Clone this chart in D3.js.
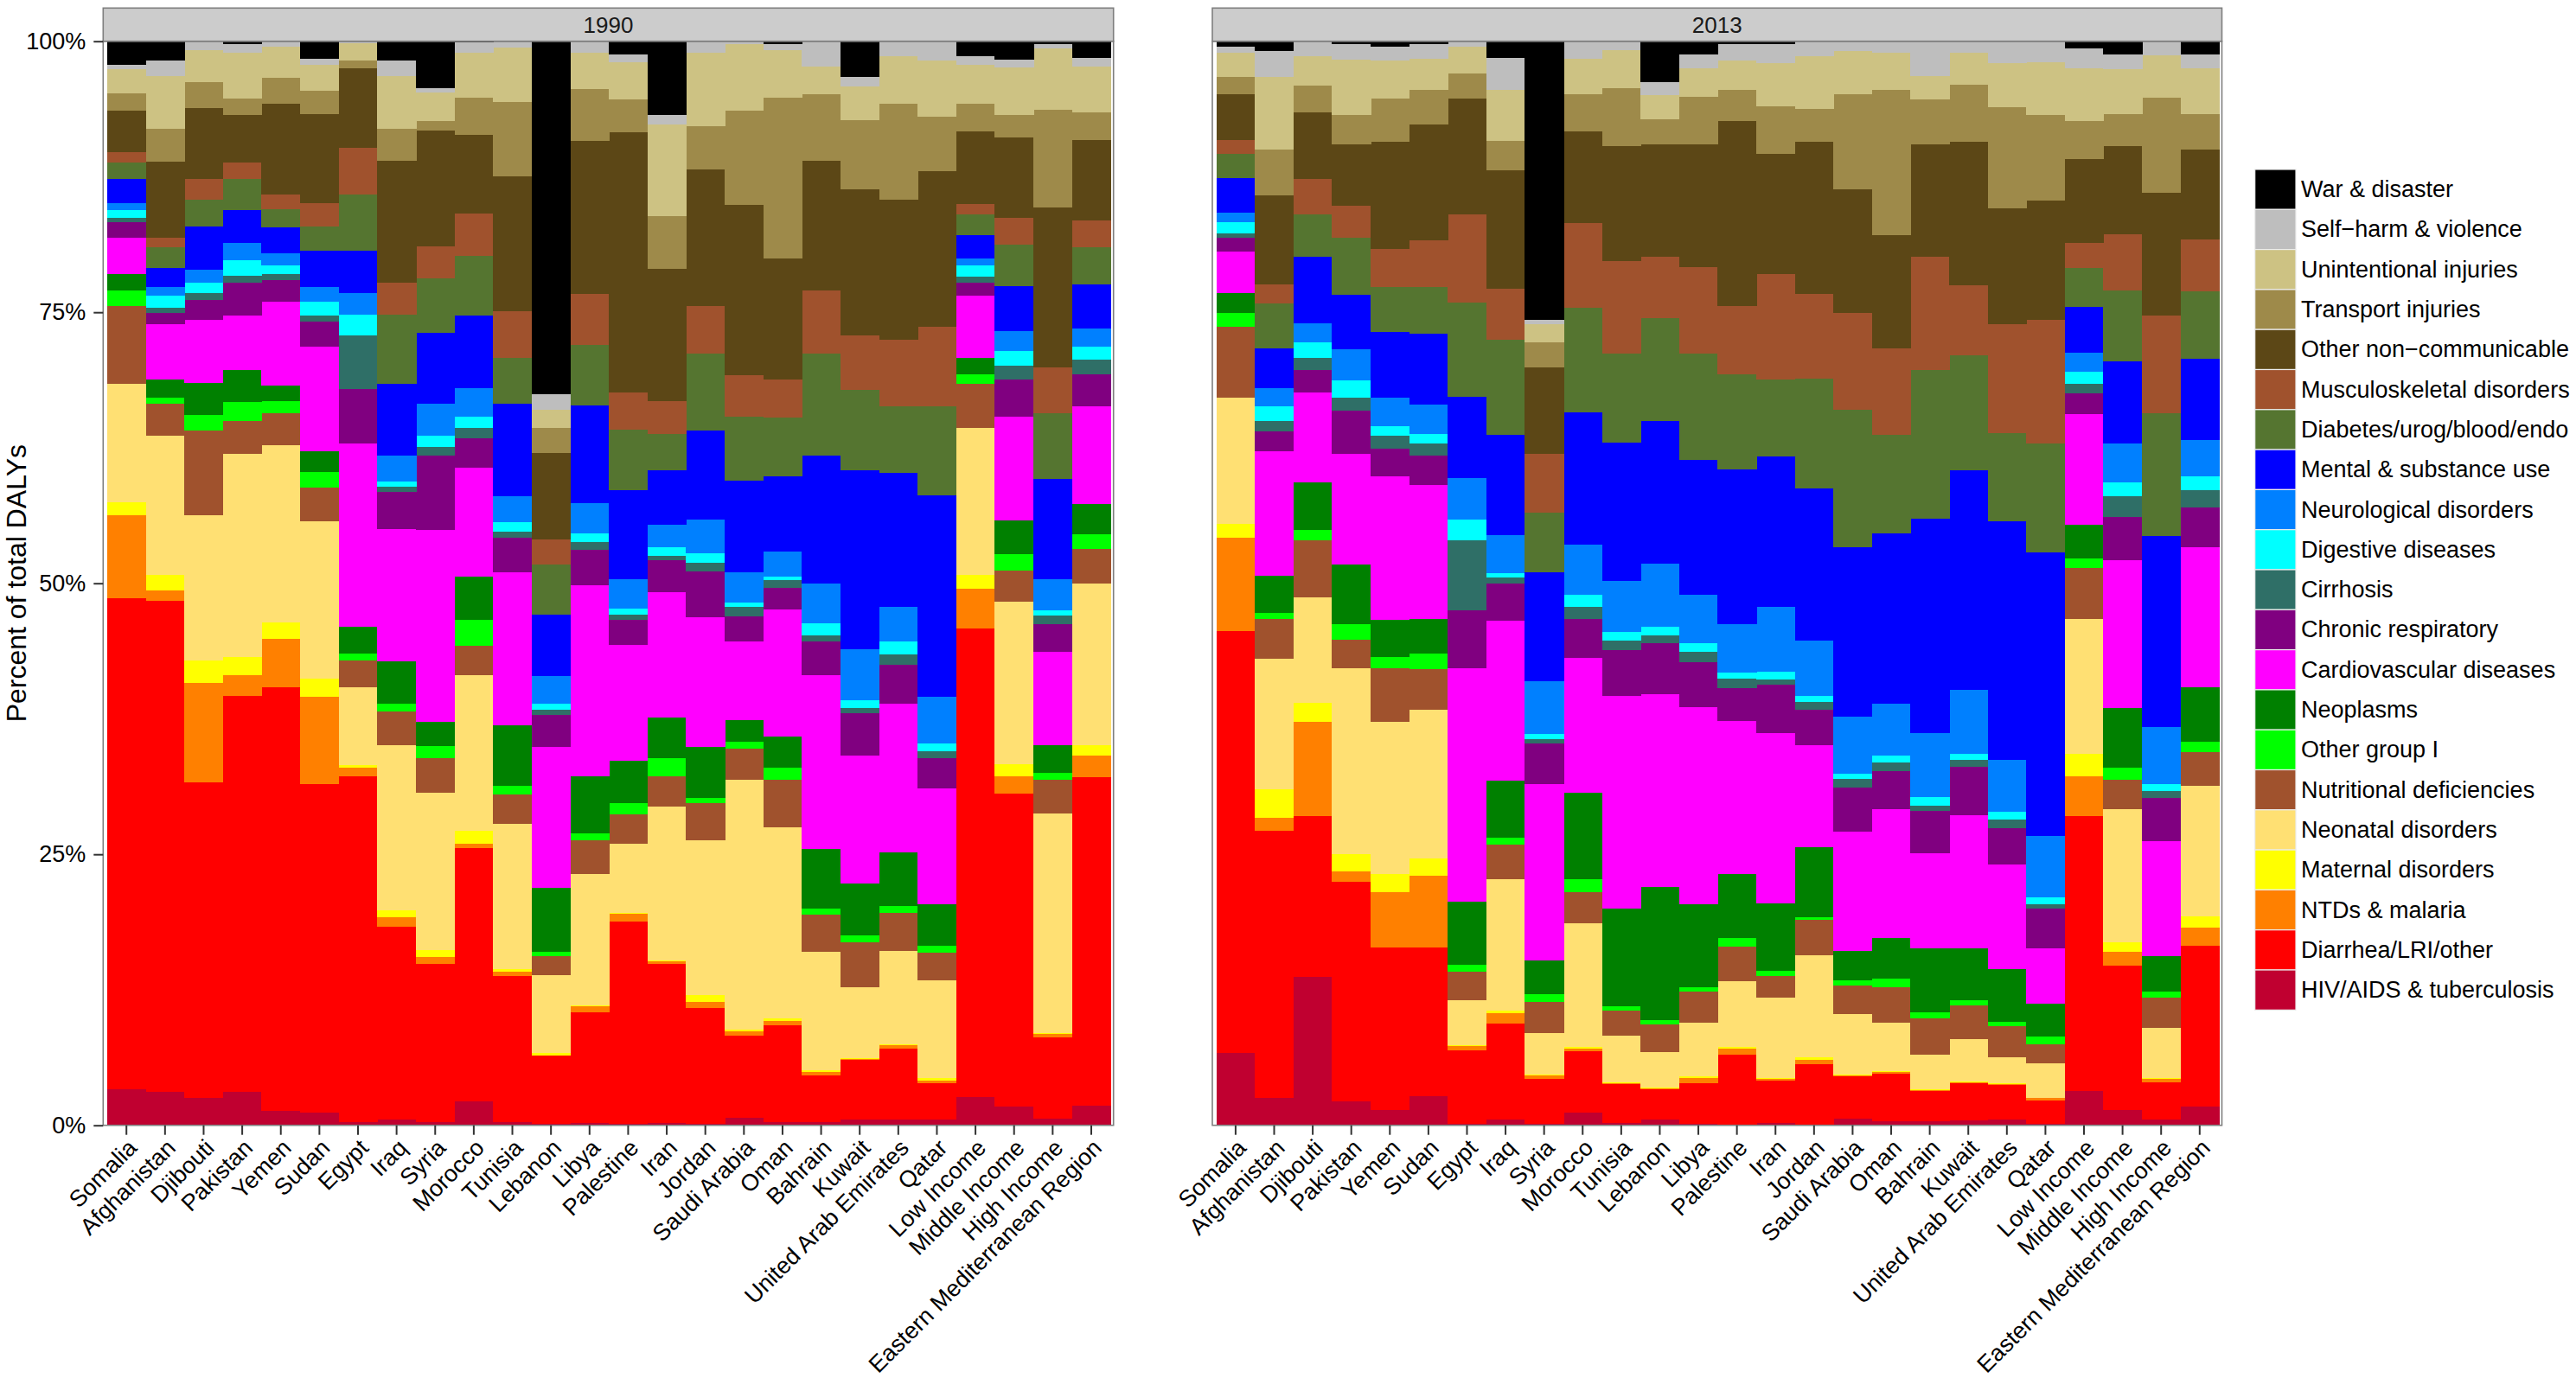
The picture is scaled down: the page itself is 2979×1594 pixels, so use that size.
<!DOCTYPE html>
<html>
<head>
<meta charset="utf-8">
<script src="https://cdn.jsdelivr.net/npm/d3@7"></script>
<style>
  html, body { margin: 0; padding: 0; background: #fff; }
  svg { display: block; font-family: "Liberation Sans", Arial, Helvetica, sans-serif; }
</style>
</head>
<body>
<script>
// ---------------- DATA ----------------
const categories = ["Somalia","Afghanistan","Djibouti","Pakistan","Yemen","Sudan","Egypt","Iraq","Syria","Morocco","Tunisia","Lebanon","Libya","Palestine","Iran","Jordan","Saudi Arabia","Oman","Bahrain","Kuwait","United Arab Emirates","Qatar","Low Income","Middle Income","High Income","Eastern Mediterranean Region"];

const years = ["1990", "2013"];

// causes, stacked bottom -> top
const causes = ["HIV/AIDS & tuberculosis","Diarrhea/LRI/other","NTDs & malaria","Maternal disorders","Neonatal disorders","Nutritional deficiencies","Other group I","Neoplasms","Cardiovascular diseases","Chronic respiratory","Cirrhosis","Digestive diseases","Neurological disorders","Mental & substance use","Diabetes/urog/blood/endo","Musculoskeletal disorders","Other non\u2212communicable","Transport injuries","Unintentional injuries","Self\u2212harm & violence","War & disaster"];

const causeColors = ["#C00030","#FF0000","#FF8000","#FFFF00","#FFE073","#A0522D","#00FF00","#008000","#FF00FF","#800080","#2F6F67","#00FFFF","#0080FF","#0000FF","#557530","#A0522D","#5C4716","#9E8A4A","#CDC283","#BEBEBE","#000000"];

const yTickValues = [0, 0.25, 0.5, 0.75, 1];
const yTickLabels = ["0%", "25%", "50%", "75%", "100%"];

// 1990 values (% of DALYs), order = categories
const hiv_1990       = [3.3,3.1,2.5,3.1,1.3,1.2,0.3,0.5,0.3,2.2,0.3,0.1,0.2,0.1,0.2,0.1,0.7,0.3,0.3,0.5,0.5,0.5,2.6,1.7,0.6,1.8];
const diarrhea_1990  = [45.3,45.3,29.1,36.5,39.1,30.3,31.9,17.8,14.6,23.4,13.5,6.3,10.2,18.7,14.7,10.7,7.6,8.9,4.3,5.5,6.6,3.4,43.2,28.9,7.5,30.3];
const ntd_1990       = [7.7,0.9,9.2,1.9,4.5,8.0,0.8,0.9,0.6,0.4,0.4,0.05,0.6,0.7,0.2,0.6,0.4,0.4,0.3,0.1,0.3,0.2,3.7,1.6,0.3,2.0];
const maternal_1990  = [1.2,1.5,2.1,1.7,1.5,1.7,0.2,0.6,0.7,1.2,0.2,0.2,0.1,0.1,0.1,0.6,0.1,0.3,0.2,0.1,0.1,0.3,1.3,1.1,0.1,1.0];
const neonatal_1990  = [10.9,12.8,13.4,18.7,16.3,14.5,7.2,15.3,14.5,14.3,13.4,7.2,12.1,6.4,14.2,14.3,23.1,17.6,10.9,6.5,8.6,9.0,13.5,15.0,20.3,14.9];
const nutrition_1990 = [7.2,3.0,7.8,3.1,3.0,3.1,2.5,3.1,3.2,2.7,2.7,1.8,3.1,2.7,2.8,3.4,2.9,4.4,3.4,4.2,3.5,2.5,4.1,2.9,3.1,3.2];
const otherI_1990    = [1.4,0.5,1.4,1.7,1.1,1.5,0.6,0.7,1.1,2.4,0.8,0.4,0.6,1.0,1.7,0.5,0.6,1.1,0.6,0.6,0.6,0.7,0.9,1.5,0.6,1.3];
const neoplasm_1990  = [1.5,1.7,3.0,3.0,1.4,1.9,2.5,3.9,2.2,4.0,5.6,5.9,5.3,3.9,3.7,4.7,2.0,2.9,5.5,4.8,5.0,3.8,1.5,3.1,2.6,2.8];
const cardio_1990    = [3.4,5.1,5.8,5.0,7.8,9.6,16.9,12.2,17.7,10.1,14.1,13.0,17.6,10.7,11.6,12.0,7.3,11.7,16.0,11.8,13.7,10.7,5.7,9.6,8.6,9.0];
const chronic_1990   = [1.4,1.0,1.8,3.0,2.0,2.3,5.0,3.4,6.9,2.7,3.2,2.9,3.3,2.3,2.9,4.2,2.3,2.0,3.1,3.9,3.6,2.8,1.2,3.4,2.5,3.0];
const cirrhosis_1990 = [0.4,0.5,0.7,0.7,0.5,0.6,5.0,0.5,0.8,0.9,0.6,0.5,0.7,0.5,0.4,0.8,0.9,0.7,0.6,0.5,0.9,0.6,0.6,1.3,0.8,1.3];
const digestive_1990 = [0.7,1.1,0.9,1.4,0.8,1.3,1.9,0.5,1.0,1.1,0.8,0.6,0.8,0.6,0.8,0.9,0.4,0.3,1.1,0.7,1.2,0.7,1.0,1.3,0.5,1.2];
const neuro_1990     = [0.7,0.8,1.2,1.6,1.1,1.3,2.0,2.4,3.0,2.6,2.4,2.5,2.8,2.7,2.1,3.1,2.8,2.3,3.7,4.7,3.2,4.3,0.7,1.9,2.9,1.7];
const mental_1990    = [2.2,1.8,4.0,3.0,2.4,3.4,3.9,6.6,6.5,6.7,8.6,5.7,9.0,8.2,5.0,8.2,8.4,7.0,11.8,16.5,12.4,18.6,2.1,4.1,9.2,4.1];
const diabetes_1990  = [1.5,1.9,2.5,2.9,1.7,2.2,5.2,6.4,5.0,5.5,4.2,4.6,5.6,5.6,3.4,7.1,5.9,5.4,9.4,7.4,6.1,8.2,1.9,3.8,6.1,3.4];
const musculo_1990   = [1.0,0.9,1.9,1.5,1.4,2.2,4.3,2.9,3.0,3.9,4.3,2.3,4.7,3.4,3.0,4.4,3.9,3.5,5.8,5.1,6.2,7.4,1.0,2.5,4.2,2.5];
const otherNCD_1990  = [3.8,7.0,6.5,4.4,8.3,8.2,7.3,11.3,10.7,7.3,12.4,8.0,14.1,24.0,12.2,12.6,15.7,11.2,12.0,13.4,12.9,14.3,6.7,7.4,14.8,7.4];
const transport_1990 = [1.6,3.0,2.4,1.5,2.4,2.1,0.7,2.9,0.8,3.4,6.9,2.3,4.8,3.0,4.9,4.0,8.7,14.8,6.1,6.4,8.8,5.0,2.5,2.1,9.0,2.5];
const unintent_1990  = [2.2,4.9,3.0,4.2,2.9,2.4,1.6,4.9,2.7,4.1,5.0,1.7,3.3,3.5,8.4,6.7,6.1,4.4,2.6,3.1,4.4,5.2,3.6,4.4,5.6,4.3];
const selfharm_1990  = [0.4,1.4,0.8,0.8,0.5,0.6,0.2,1.4,0.4,1.0,0.6,1.4,1.1,0.7,0.9,1.1,0.3,0.5,2.3,0.9,1.4,1.8,0.8,0.7,0.4,0.8];
const war_1990       = [2.2,1.8,0,0.3,0,1.6,0,1.8,4.3,0.1,0,32.6,0,1.2,6.8,0,0,0.3,0,3.3,0,0,1.4,1.7,0.3,1.5];

// 2013 values (% of DALYs), order = categories
const hiv_2013       = [6.7,2.5,13.7,2.2,1.4,2.7,0.1,0.5,0.1,1.2,0.25,0.5,0.15,0.05,0.25,0.05,0.6,0.4,0.4,0.45,0.55,0.15,3.2,1.4,0.55,1.7];
const diarrhea_2013  = [38.9,24.7,14.8,20.3,15.0,13.7,6.8,8.9,4.2,5.6,3.55,2.8,3.75,6.45,3.85,5.55,3.9,4.4,2.8,3.45,3.15,2.15,25.3,13.3,3.45,14.9];
const ntd_2013       = [8.6,1.2,8.7,0.9,5.1,6.6,0.4,0.9,0.3,0.3,0.1,0.1,0.5,0.6,0.2,0.4,0.1,0.1,0.05,0.05,0.1,0.2,3.7,1.3,0.3,1.6];
const maternal_2013  = [1.3,2.6,1.8,1.6,1.7,1.6,0.1,0.3,0.1,0.1,0.1,0.1,0.1,0.1,0.1,0.3,0.1,0.1,0.1,0.1,0.05,0.05,2.1,0.9,0.1,1.1];
const neonatal_2013  = [11.6,12.0,9.7,17.2,14.0,13.7,4.1,12.1,3.8,11.4,4.3,3.3,5.0,6.1,7.4,9.4,5.6,4.5,3.2,3.9,2.4,3.2,12.4,12.3,4.6,12.0];
const nutrition_2013 = [6.6,3.7,5.3,2.6,5.0,3.8,2.7,3.2,2.9,2.9,2.3,2.5,2.8,3.2,2.0,3.2,2.6,3.2,3.3,3.1,2.9,1.7,4.7,2.7,2.8,3.1];
const otherI_2013    = [1.2,0.6,0.9,1.4,1.0,1.4,0.6,0.6,0.7,1.2,0.4,0.4,0.4,0.8,0.5,0.3,0.5,0.8,0.6,0.5,0.4,0.7,0.9,1.1,0.5,1.0];
const neoplasm_2013  = [1.9,3.4,4.4,5.5,3.4,3.2,5.8,5.3,3.1,8.0,9.0,12.3,7.7,5.9,6.2,6.4,2.7,3.8,5.9,4.8,4.9,3.1,3.1,5.5,3.3,5.0];
const cardio_2013    = [3.8,11.5,8.3,10.2,13.3,12.4,21.6,14.7,16.3,12.4,19.6,17.8,18.2,14.1,15.7,9.4,11.0,11.9,8.8,12.3,9.6,5.1,10.2,13.6,10.6,12.9];
const chronic_2013   = [1.3,1.8,2.1,4.0,2.5,2.7,5.3,3.4,3.7,3.6,4.2,4.7,4.1,3.0,4.5,3.3,4.1,3.5,3.9,4.4,3.4,3.6,1.9,4.0,4.0,3.7];
const cirrhosis_2013 = [0.4,1.0,1.1,1.2,1.2,1.1,6.5,0.6,0.4,1.1,0.9,0.7,1.0,0.9,0.5,0.7,0.8,0.8,0.5,0.7,0.8,0.4,0.9,1.9,0.6,1.6];
const digestive_2013 = [1.0,1.3,1.4,1.6,0.9,0.9,1.9,0.4,0.5,1.1,0.8,0.8,0.8,0.6,0.7,0.6,0.5,0.6,0.8,0.5,0.7,0.7,1.1,1.3,0.7,1.3];
const neuro_2013     = [0.9,1.7,1.8,2.9,2.6,2.7,3.8,3.5,4.9,4.7,4.7,5.9,4.4,4.4,6.0,5.1,5.2,4.8,5.9,5.9,4.8,5.6,1.8,3.6,5.2,3.3];
const mental_2013    = [3.2,3.7,6.1,5.0,6.1,6.5,7.5,9.2,10.0,12.2,12.8,13.1,12.5,14.3,13.9,14.0,15.7,15.7,19.8,20.3,22.0,26.2,4.2,7.6,17.7,7.5];
const diabetes_2013  = [2.2,4.1,3.9,5.3,4.1,4.3,8.7,8.8,5.5,9.6,8.2,9.5,9.8,8.8,7.1,10.1,12.7,9.1,13.7,10.6,8.1,10.0,3.6,6.5,11.3,6.2];
const musculo_2013   = [1.3,1.8,3.3,2.9,3.5,4.3,8.1,4.7,5.4,7.8,8.5,5.7,8.0,6.3,9.7,7.8,8.9,8.0,10.5,6.5,10.1,11.4,2.3,5.2,9.0,4.8];
const otherNCD_2013  = [4.2,8.2,6.1,5.7,9.9,10.7,10.7,10.9,8.0,8.5,10.6,10.4,11.3,17.0,11.1,14.0,11.4,10.4,10.4,13.2,10.7,11.0,7.7,8.1,11.3,8.3];
const transport_2013 = [1.6,4.2,2.5,2.7,4.0,3.2,2.3,2.7,2.3,3.4,5.4,2.3,4.4,2.9,4.4,3.1,8.8,13.4,4.1,5.3,9.3,7.9,3.5,3.0,8.8,3.3];
const unintent_2013  = [2.2,6.7,2.7,5.1,3.5,2.9,2.5,4.7,1.7,3.3,3.5,2.2,2.6,2.7,4.0,4.8,4.0,3.4,2.2,2.9,4.1,4.9,4.9,4.1,3.9,4.2];
const selfharm_2013  = [0.6,2.4,1.4,1.4,1.3,1.3,0.5,3.0,0.4,1.6,0.8,1.2,1.3,1.5,1.7,1.4,0.9,1.1,3.2,1.1,2.0,1.9,1.8,1.4,1.3,1.3];
const war_2013       = [0.5,0.9,0,0.3,0.5,0.3,0,1.5,25.7,0,0,3.8,1.2,0.3,0.3,0,0,0,0,0,0,0,0.7,1.2,0,1.2];

const series1990 = [hiv_1990,diarrhea_1990,ntd_1990,maternal_1990,neonatal_1990,nutrition_1990,otherI_1990,neoplasm_1990,cardio_1990,chronic_1990,cirrhosis_1990,digestive_1990,neuro_1990,mental_1990,diabetes_1990,musculo_1990,otherNCD_1990,transport_1990,unintent_1990,selfharm_1990,war_1990];
const series2013 = [hiv_2013,diarrhea_2013,ntd_2013,maternal_2013,neonatal_2013,nutrition_2013,otherI_2013,neoplasm_2013,cardio_2013,chronic_2013,cirrhosis_2013,digestive_2013,neuro_2013,mental_2013,diabetes_2013,musculo_2013,otherNCD_2013,transport_2013,unintent_2013,selfharm_2013,war_2013];

// ---------------- LAYOUT ----------------
const W = 2979, H = 1594;
const plotTop = 47.7, plotBottom = 1301.7, stripTop = 9.3;
const panels = [
  { year: years[0], x0: 119.3, x1: 1287.7, series: series1990 },
  { year: years[1], x0: 1402, x1: 2569.5, series: series2013 }
];
const fontAxis = 27;

function buildRows(seriesArr) {
  return categories.map((c, i) => {
    const row = { category: c };
    causes.forEach((k, j) => { row[k] = seriesArr[j][i]; });
    return row;
  });
}

const color = d3.scaleOrdinal().domain(causes).range(causeColors);
const y = d3.scaleLinear().domain([0, 1]).range([plotBottom, plotTop]);

const svg = d3.select("body").append("svg").attr("width", W).attr("height", H);
svg.append("rect").attr("width", W).attr("height", H).attr("fill", "#fff");

const stack = d3.stack().keys(causes).order(d3.stackOrderNone).offset(d3.stackOffsetExpand);

panels.forEach(p => {
  const rows = buildRows(p.series);
  const layers = stack(rows);
  const x = d3.scaleBand().domain(categories).range([p.x0 + 4.6, p.x1 - 3.4]).padding(0);

  const g = svg.append("g");
  g.append("rect").attr("x", p.x0).attr("y", plotTop).attr("width", p.x1 - p.x0)
    .attr("height", plotBottom - plotTop).attr("fill", "#fff");

  g.selectAll("g.layer").data(layers).join("g")
    .attr("class", "layer")
    .attr("fill", d => color(d.key))
    .selectAll("rect").data(d => d).join("rect")
      .attr("x", d => x(d.data.category))
      .attr("width", x.bandwidth() + 0.6)
      .attr("y", d => y(d[1]))
      .attr("height", d => Math.max(0, y(d[0]) - y(d[1])))
      .attr("shape-rendering", "crispEdges");

  g.append("rect").attr("x", p.x0).attr("y", plotTop).attr("width", p.x1 - p.x0)
    .attr("height", plotBottom - plotTop).attr("fill", "none")
    .attr("stroke", "#7f7f7f").attr("stroke-width", 1.6);

  g.append("rect").attr("x", p.x0).attr("y", stripTop).attr("width", p.x1 - p.x0)
    .attr("height", plotTop - stripTop).attr("fill", "#cccccc")
    .attr("stroke", "#7f7f7f").attr("stroke-width", 1.6);
  g.append("text").attr("x", (p.x0 + p.x1) / 2).attr("y", (stripTop + plotTop) / 2)
    .attr("text-anchor", "middle").attr("dominant-baseline", "central")
    .attr("font-size", 26).attr("fill", "#1a1a1a").text(p.year);

  const xAxis = d3.axisBottom(x).tickSize(11).tickSizeOuter(0).tickFormat("");
  const xg = g.append("g").attr("transform", `translate(0,${plotBottom})`).call(xAxis);
  xg.select(".domain").remove();
  xg.selectAll(".tick line").attr("stroke", "#333").attr("stroke-width", 2);

  g.append("g").selectAll("text").data(categories).join("text")
    .attr("transform", d => `translate(${x(d) + x.bandwidth() / 2},${plotBottom + 14}) rotate(-45)`)
    .attr("text-anchor", "end")
    .attr("dy", "0.72em")
    .attr("font-size", fontAxis)
    .attr("fill", "#000")
    .text(d => d);
});

const yAxis = d3.axisLeft(y).tickValues(yTickValues)
  .tickFormat((d, i) => yTickLabels[i]).tickSize(11).tickSizeOuter(0).tickPadding(9);
const yg = svg.append("g").attr("transform", `translate(${panels[0].x0},0)`).call(yAxis);
yg.select(".domain").remove();
yg.selectAll(".tick line").attr("stroke", "#333").attr("stroke-width", 2);
yg.selectAll(".tick text").attr("font-size", fontAxis).attr("fill", "#000")
  .attr("font-family", "Liberation Sans, Arial, sans-serif");

// y axis title
svg.append("text")
  .attr("transform", `translate(30,${(plotTop + plotBottom) / 2}) rotate(-90)`)
  .attr("text-anchor", "middle").attr("font-size", 32).attr("fill", "#000")
  .text("Percent of total DALYs");

// legend (top entry = last cause)
const legendX = 2607.7, legendY = 196, keyW = 47.3, keyH = 46.3;
const legendItems = causes.slice().reverse();
const lg = svg.append("g");
lg.selectAll("rect").data(legendItems).join("rect")
  .attr("x", legendX).attr("y", (d, i) => legendY + i * keyH)
  .attr("width", keyW).attr("height", keyH)
  .attr("fill", d => color(d)).attr("stroke", "#ececec").attr("stroke-width", 1.2);
lg.selectAll("text").data(legendItems).join("text")
  .attr("x", legendX + keyW + 6).attr("y", (d, i) => legendY + i * keyH + keyH / 2)
  .attr("dominant-baseline", "central").attr("font-size", fontAxis).attr("fill", "#000")
  .text(d => d);
</script>
</body>
</html>
